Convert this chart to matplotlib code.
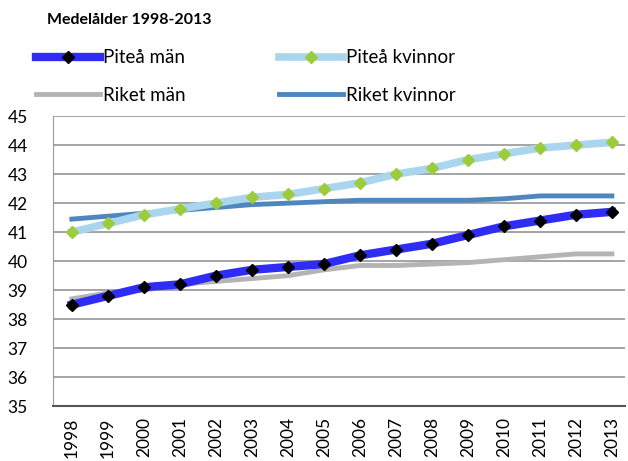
"""Medelålder 1998-2013, Piteå vs riket."""

import matplotlib.pyplot as plt
from matplotlib.lines import Line2D

YEARS = list(range(1998, 2014))

PITEA_MAN = [38.5, 38.8, 39.1, 39.2, 39.5, 39.7, 39.8, 39.9,
             40.2, 40.4, 40.6, 40.9, 41.2, 41.4, 41.6, 41.7]
PITEA_KVINNOR = [41.0, 41.3, 41.6, 41.8, 42.0, 42.2, 42.3, 42.5,
                 42.7, 43.0, 43.2, 43.5, 43.7, 43.9, 44.0, 44.1]
RIKET_MAN = [38.7, 38.9, 39.0, 39.2, 39.3, 39.4, 39.5, 39.7,
             39.85, 39.85, 39.9, 39.95, 40.05, 40.15, 40.25, 40.25]
RIKET_KVINNOR = [41.45, 41.55, 41.65, 41.75, 41.85, 41.95, 42.0, 42.05,
                 42.1, 42.1, 42.1, 42.1, 42.15, 42.25, 42.25, 42.25]

YTICKS = list(range(35, 46))

BLUE = "#2f2cf5"
LIGHT_BLUE = "#a9d6ee"
GREEN = "#9ccb3b"
GRAY = "#b4b4b4"
STEEL = "#4f86c0"

plt.rcParams["font.family"] = ["Lato", "DejaVu Sans"]

fig = plt.figure(figsize=(6.28, 4.61), dpi=100)
ax = fig.add_axes([0.084, 0.119, 0.911, 0.629])

ax.plot(YEARS, RIKET_KVINNOR, color=STEEL, linewidth=3.5, zorder=3)
ax.plot(YEARS, PITEA_KVINNOR, color=LIGHT_BLUE, linewidth=5.5, zorder=4,
        marker="D", markersize=6, markerfacecolor=GREEN, markeredgecolor=GREEN)
ax.plot(YEARS, PITEA_MAN, color=BLUE, linewidth=6, zorder=4,
        marker="D", markersize=6, markerfacecolor="black", markeredgecolor="black")
ax.plot(YEARS, RIKET_MAN, color=GRAY, linewidth=3.5, zorder=3.5)

ax.set_ylim(35, 45)
ax.set_yticks(YTICKS)
ax.set_xlim(1997.47, 2013.36)
ax.set_xticks(YEARS)
ax.set_xticklabels([str(y) for y in YEARS], rotation=90)
ax.tick_params(axis="both", length=0, labelsize=12.5, pad=8)
ax.tick_params(axis="y", pad=18)
ax.grid(axis="y", color="#8c8c8c", linewidth=1.1)
for side in ("top", "right"):
    ax.spines[side].set_visible(False)
ax.spines["left"].set_color("#9a9a9a")
ax.spines["bottom"].set_color("#555555")
ax.spines["bottom"].set_linewidth(1.5)
ax.set_axisbelow(True)

fig.text(0.075, 0.957, "Medelålder 1998-2013", fontsize=11.5, fontweight="bold",
         va="center")

handles = [
    Line2D([], [], color=BLUE, linewidth=6, marker="D", markersize=6,
           markerfacecolor="black", markeredgecolor="black"),
    Line2D([], [], color=GRAY, linewidth=3.5),
    Line2D([], [], color=LIGHT_BLUE, linewidth=5.5, marker="D", markersize=6,
           markerfacecolor=GREEN, markeredgecolor=GREEN),
    Line2D([], [], color=STEEL, linewidth=3.5),
]
labels = ["Piteå män", "Riket män", "Piteå kvinnor", "Riket kvinnor"]
fig.legend(handles, labels, ncol=2, loc="upper left",
           bbox_to_anchor=(0.058, 0.893), frameon=False, fontsize=13.5,
           handlelength=3.4, handletextpad=0.15, columnspacing=5.0,
           labelspacing=1.1, borderaxespad=0, borderpad=0)

fig.savefig("out.png", dpi=100)
